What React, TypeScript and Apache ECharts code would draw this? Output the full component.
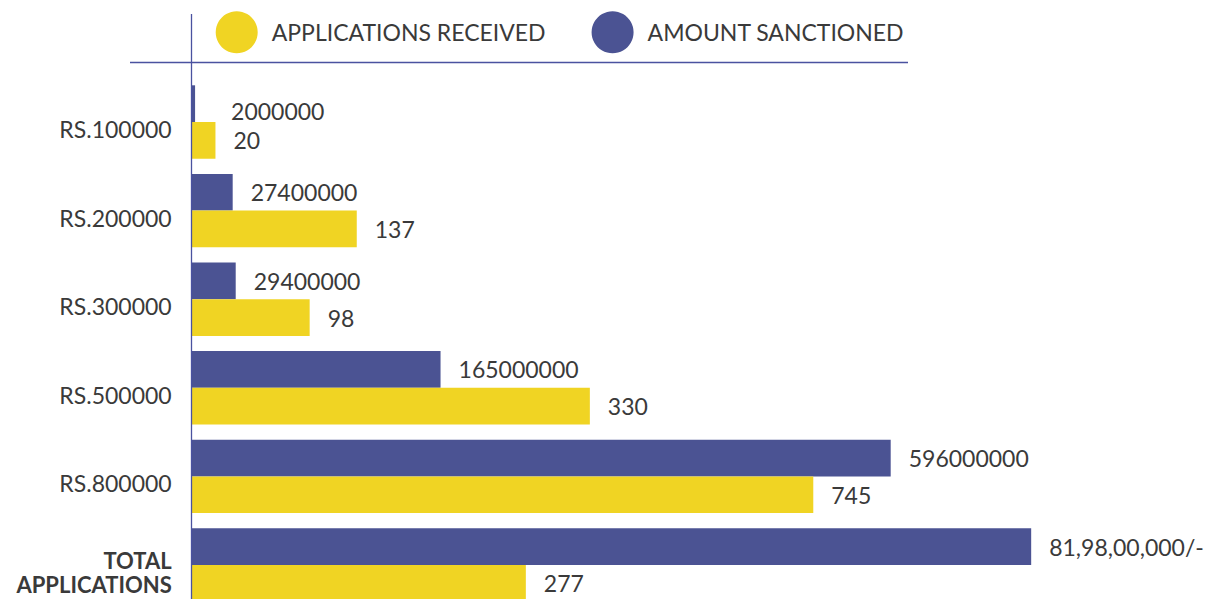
import React, { useEffect, useRef } from 'react';
import * as echarts from 'echarts';

// ---- data ----
const categories = ['RS.100000', 'RS.200000', 'RS.300000', 'RS.500000', 'RS.800000', 'TOTAL APPLICATIONS'];
const seriesNames = ['APPLICATIONS RECEIVED', 'AMOUNT SANCTIONED'];

// printed values
const applicationsReceived = [20, 137, 98, 330, 745, 277];
const amountSanctionedLabels = ['2000000', '27400000', '29400000', '165000000', '596000000', '81,98,00,000/-'];

// bar lengths as drawn in the infographic (the original is not to scale for the large bars)
const applicationsBarLength = [20, 137, 98, 330, 515, 277];
const amountSanctionedBarLength = [2500000, 27400000, 29400000, 165000000, 463000000, 556000000];

// axis ranges (hidden value axes)
const applicationsAxisMax = 828;
const amountAxisMax = 662000000;

const YELLOW = '#F0D423';
const BLUE = '#4B5393';
const LINE = '#4A52A0';
const TEXT = '#3a3a3a';
const FONT = 'Lato';

export default function App() {
  const ref = useRef<HTMLDivElement>(null);

  useEffect(() => {
    if (!ref.current) return;
    const chart = echarts.init(ref.current, undefined, { renderer: 'svg' });

    const labelBase = {
      show: true,
      position: 'right',
      distance: 18,
      fontSize: 23,
      color: TEXT,
      fontFamily: FONT,
    };

    const option: any = {
      animation: false,
      textStyle: { fontFamily: FONT },
      legend: {
        data: seriesNames,
        left: 215.7,
        top: 11.3,
        padding: 0,
        icon: 'circle',
        itemWidth: 42,
        itemHeight: 42,
        itemGap: 46,
        textStyle: { fontSize: 23, color: TEXT, fontFamily: FONT, padding: [0, 0, 0, 9] },
      },
      grid: { left: 191.3, top: 77.7, width: 1000, height: 531.6 },
      xAxis: [
        { type: 'value', min: 0, max: applicationsAxisMax, show: false },
        { type: 'value', min: 0, max: amountAxisMax, show: false },
      ],
      yAxis: {
        type: 'category',
        data: categories,
        inverse: true,
        axisLine: { show: false },
        axisTick: { show: false },
        splitLine: { show: false },
        axisLabel: {
          margin: 19.6,
          fontSize: 23,
          color: TEXT,
          fontFamily: FONT,
          padding: [14, 0, 0, 0],
          formatter: (v: string) =>
            v === 'TOTAL APPLICATIONS' ? '{b|TOTAL}\n{b|APPLICATIONS}' : v,
          rich: {
            b: { fontWeight: 'bold', fontSize: 22, lineHeight: 24, fontFamily: FONT, color: TEXT, align: 'right' },
          },
        },
      },
      series: [
        {
          name: seriesNames[1],
          type: 'bar',
          xAxisIndex: 1,
          data: amountSanctionedBarLength.map((v, i) =>
            i === 0 ? { value: v, label: { offset: [18, 7] } } : v
          ),
          barWidth: 36.7,
          barGap: '0%',
          itemStyle: { color: BLUE },
          label: { ...labelBase, formatter: (p: any) => amountSanctionedLabels[p.dataIndex] },
        },
        {
          name: seriesNames[0],
          type: 'bar',
          xAxisIndex: 0,
          data: applicationsBarLength,
          barWidth: 36.7,
          barGap: '0%',
          itemStyle: { color: YELLOW },
          label: { ...labelBase, formatter: (p: any) => String(applicationsReceived[p.dataIndex]) },
        },
      ],
      graphic: [
        {
          type: 'line',
          z: 100,
          shape: { x1: 191.5, y1: 14, x2: 191.5, y2: 620 },
          style: { stroke: LINE, lineWidth: 1.3 },
        },
        {
          type: 'line',
          z: 100,
          shape: { x1: 130, y1: 62.5, x2: 908, y2: 62.5 },
          style: { stroke: LINE, lineWidth: 1.3 },
        },
      ],
    };

    chart.setOption(option);
    return () => chart.dispose();
  }, []);

  return (
    <div
      style={{
        position: 'absolute',
        left: 0,
        top: 0,
        width: 1213,
        height: 599,
        overflow: 'hidden',
        background: '#fff',
      }}
    >
      <div ref={ref} style={{ width: 1213, height: 620 }} />
    </div>
  );
}
